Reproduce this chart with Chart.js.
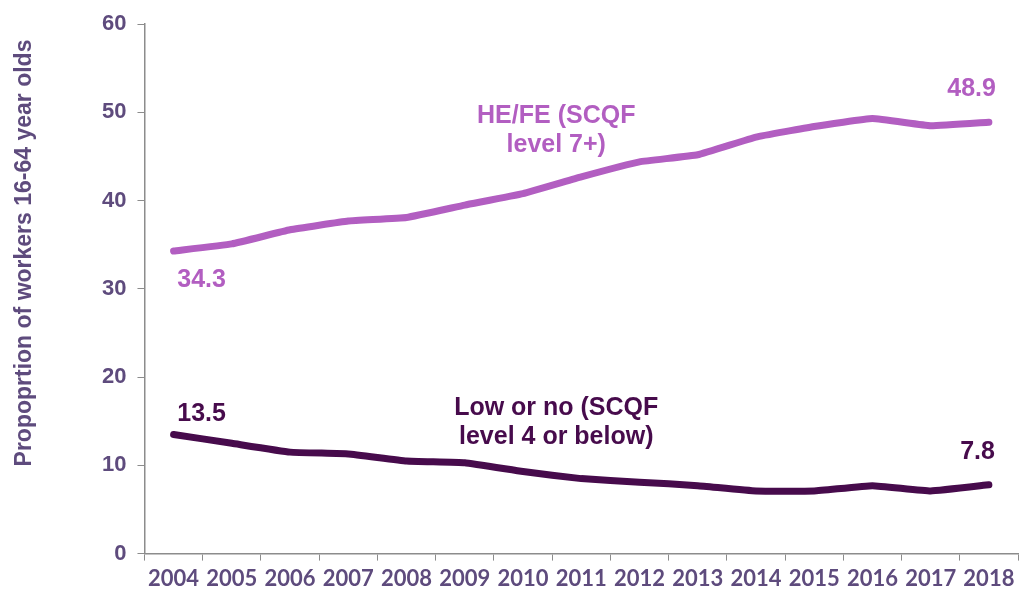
<!DOCTYPE html>
<html>
<head>
<meta charset="utf-8">
<script src="https://cdn.jsdelivr.net/npm/chart.js@4.4.1/dist/chart.umd.min.js"></script>
<style>
  html, body { margin: 0; padding: 0; background: #fff; }
  #wrap { width: 1020px; height: 600px; }
</style>
</head>
<body>
<div id="wrap"><canvas id="chart"></canvas></div>
<script>
const years = ['2004', '2005', '2006', '2007', '2008', '2009', '2010', '2011', '2012', '2013', '2014', '2015', '2016', '2017', '2018'];
const heFe = [34.3, 35.1, 36.7, 37.7, 38.1, 39.5, 40.8, 42.7, 44.4, 45.2, 47.2, 48.4, 49.3, 48.5, 48.9];
const lowNo = [13.5, 12.5, 11.5, 11.3, 10.5, 10.3, 9.3, 8.5, 8.1, 7.7, 7.1, 7.1, 7.7, 7.1, 7.8];
const yTicks = [0, 10, 20, 30, 40, 50, 60];
const yTitle = 'Propoprtion of workers 16-64 year olds';

const heColor = '#B25EC1';
const lowColor = '#470B4C';
const axisText = '#5E4B7D';
const labelFont = 'bold 25px "Liberation Sans", Arial, sans-serif';

// series names, anchored at a category index and a y value
const notes = [
    { x: 7, y: 49.6, lines: ['HE/FE (SCQF', 'level 7+)'], color: heColor },
    { x: 7, y: 16.5, lines: ['Low or no (SCQF', 'level 4 or below)'], color: lowColor }
];

const labelPlugin = {
    id: 'labels',
    afterDatasetsDraw(chart) {
        const ctx = chart.ctx;
        const xs = chart.scales.x, ys = chart.scales.y;
        const last = years.length - 1;
        ctx.save();
        ctx.font = labelFont;
        ctx.textBaseline = 'middle';

        // first values
        ctx.textAlign = 'center';
        ctx.fillStyle = heColor;
        ctx.fillText(heFe[0].toFixed(1), xs.getPixelForValue(0) + 28, ys.getPixelForValue(heFe[0]) + 29);
        ctx.fillStyle = lowColor;
        ctx.fillText(lowNo[0].toFixed(1), xs.getPixelForValue(0) + 28, ys.getPixelForValue(lowNo[0]) - 20);

        // last values
        ctx.textAlign = 'right';
        ctx.fillStyle = heColor;
        ctx.fillText(heFe[last].toFixed(1), xs.getPixelForValue(last) + 7, ys.getPixelForValue(heFe[last]) - 33);
        ctx.fillStyle = lowColor;
        ctx.fillText(lowNo[last].toFixed(1), xs.getPixelForValue(last) + 6, ys.getPixelForValue(lowNo[last]) - 33);

        // series names
        ctx.textAlign = 'center';
        notes.forEach(n => {
            ctx.fillStyle = n.color;
            const px = xs.getPixelForValue(n.x) - 25;
            let py = ys.getPixelForValue(n.y);
            n.lines.forEach(l => {
                ctx.fillText(l, px, py);
                py += 29;
            });
        });

        // y axis title (sits a little above the middle in the original)
        ctx.translate(25, 253);
        ctx.rotate(-Math.PI / 2);
        ctx.font = 'bold 23px "Liberation Sans", Arial, sans-serif';
        ctx.fillStyle = axisText;
        ctx.fillText(yTitle, 0, 0);
        ctx.restore();
    }
};

new Chart(document.getElementById('chart').getContext('2d'), {
    type: 'line',
    data: {
        labels: years,
        datasets: [
            {
                label: 'HE/FE (SCQF level 7+)',
                data: heFe,
                borderColor: heColor,
                borderWidth: 7,
                pointRadius: 0,
                borderCapStyle: 'round',
                tension: 0.1
            },
            {
                label: 'Low or no (SCQF level 4 or below)',
                data: lowNo,
                borderColor: lowColor,
                borderWidth: 7,
                pointRadius: 0,
                borderCapStyle: 'round',
                tension: 0.1
            }
        ]
    },
    options: {
        responsive: true,
        maintainAspectRatio: false,
        animation: false,
        layout: { padding: { top: 12, right: 2, left: 91, bottom: 3 } },
        scales: {
            x: {
                offset: true,
                grid: {
                    offset: true,
                    drawOnChartArea: false,
                    drawTicks: true,
                    tickLength: 7,
                    color: '#8c8c8c'
                },
                border: { color: '#8c8c8c', width: 1.5 },
                ticks: {
                    color: axisText,
                    font: { family: 'Lato, "Liberation Sans", sans-serif', weight: 'bold', size: 22 },
                    maxRotation: 0,
                    autoSkip: false,
                    padding: 5
                }
            },
            y: {
                min: 0,
                max: 60,
                afterBuildTicks(axis) {
                    axis.ticks = yTicks.map(v => ({ value: v }));
                },
                grid: {
                    drawOnChartArea: false,
                    drawTicks: true,
                    tickLength: 7,
                    color: '#8c8c8c'
                },
                border: { color: '#8c8c8c', width: 1.5 },
                ticks: {
                    color: axisText,
                    font: { family: '"Liberation Sans", Arial, sans-serif', weight: 'bold', size: 22 },
                    padding: 11
                }
            }
        },
        plugins: {
            legend: { display: false },
            tooltip: { enabled: false }
        }
    },
    plugins: [labelPlugin]
});
</script>
</body>
</html>
